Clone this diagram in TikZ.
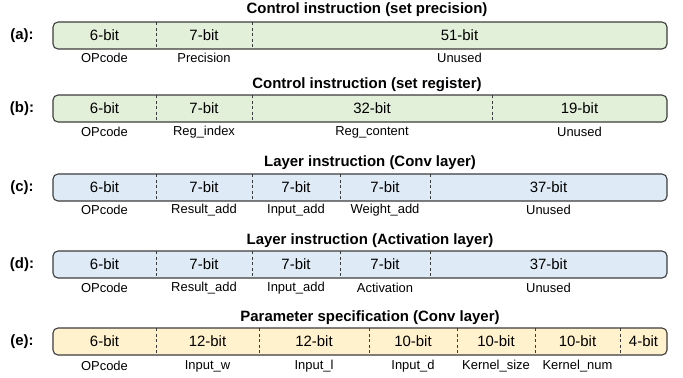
\documentclass[tikz,border=0pt]{standalone}
\usepackage{fontspec}
\setmainfont{Liberation Sans}
\usepackage{tikz}
\usetikzlibrary{positioning}

\definecolor{ctrlfill}{HTML}{E2EFD9}
\definecolor{layerfill}{HTML}{DEEBF7}
\definecolor{paramfill}{HTML}{FFF2CC}
\definecolor{edgegray}{HTML}{3C3C3C}

\begin{document}
\begin{tikzpicture}[
    x=1bp, y=-1bp,
    title/.style={font=\fontsize{15}{18}\selectfont\bfseries, inner sep=0pt},
    tag/.style={font=\fontsize{15}{18}\selectfont\bfseries, inner sep=0pt},
    bar/.style={rectangle, rounded corners=5bp, draw=edgegray, line width=1.1bp,
        minimum width=614bp, minimum height=27bp, inner sep=0pt},
    bits/.style={font=\fontsize{15}{18}\selectfont, inner sep=0pt},
    field/.style={font=\fontsize{13}{16}\selectfont, inner sep=0pt},
    sep/.style={draw=edgegray, line width=0.9bp, dash pattern=on 3bp off 2.5bp}
    ]
    \useasboundingbox (0,0) rectangle (683,377);

    % (a) set precision
    \node[title] (ta) at (367,10) {Control instruction (set precision)};
    \node[tag] (taga) at (22,35.5) {(a):};
    \node[bar, fill=ctrlfill] (bara) at (360,35.5) {};
    \foreach \x in {156,252}
        \draw[sep] (\x,22) -- (\x,49);
    \foreach \xa/\xb/\n/\what [count=\i] in {53/156/6/OPcode, 156/252/7/Precision, 252/667/51/Unused} {
        \node[bits] (a\i) at ({(\xa+\xb)/2},35.5) {\n-bit};
        \node[field] (la\i) at ({(\xa+\xb)/2},58) {\what};
    }

    % (b) set register
    \node[title] (tb) at (367,85) {Control instruction (set register)};
    \node[tag] (tagb) at (22,108.5) {(b):};
    \node[bar, fill=ctrlfill] (barb) at (360,108.5) {};
    \foreach \x in {156,252,492}
        \draw[sep] (\x,95) -- (\x,122);
    \foreach \xa/\xb/\n/\what [count=\i] in {53/156/6/OPcode, 156/252/7/Reg\_index,
            252/492/32/Reg\_content, 492/667/19/Unused} {
        \node[bits] (b\i) at ({(\xa+\xb)/2},108.5) {\n-bit};
        \node[field] (lb\i) at ({(\xa+\xb)/2},132) {\what};
    }

    % (c) conv layer
    \node[title] (tc) at (370,163) {Layer instruction (Conv layer)};
    \node[tag] (tagc) at (22,187.5) {(c):};
    \node[bar, fill=layerfill] (barc) at (360,187.5) {};
    \foreach \x in {156,252,340,430}
        \draw[sep] (\x,174) -- (\x,201);
    \foreach \xa/\xb/\n/\what [count=\i] in {53/156/6/OPcode, 156/252/7/Result\_add,
            252/340/7/Input\_add, 340/430/7/Weight\_add, 430/667/37/Unused} {
        \node[bits] (c\i) at ({(\xa+\xb)/2},187.5) {\n-bit};
        \node[field] (lc\i) at ({(\xa+\xb)/2},210) {\what};
    }

    % (d) activation layer
    \node[title] (td) at (370,241) {Layer instruction (Activation layer)};
    \node[tag] (tagd) at (22,264.5) {(d):};
    \node[bar, fill=layerfill] (bard) at (360,264.5) {};
    \foreach \x in {156,252,340,430}
        \draw[sep] (\x,251) -- (\x,278);
    \foreach \xa/\xb/\n/\what [count=\i] in {53/156/6/OPcode, 156/252/7/Result\_add,
            252/340/7/Input\_add, 340/430/7/Activation, 430/667/37/Unused} {
        \node[bits] (d\i) at ({(\xa+\xb)/2},264.5) {\n-bit};
        \node[field] (ld\i) at ({(\xa+\xb)/2},288) {\what};
    }

    % (e) conv layer parameters
    \node[title] (te) at (370,318) {Parameter specification (Conv layer)};
    \node[tag] (tage) at (22,341.5) {(e):};
    \node[bar, fill=paramfill] (bare) at (360,341.5) {};
    \foreach \x in {156,259,369,457,535,620}
        \draw[sep] (\x,328) -- (\x,355);
    \foreach \xa/\xb/\n/\what [count=\i] in {53/156/6/OPcode, 156/259/12/Input\_w,
            259/369/12/Input\_l, 369/457/10/Input\_d, 457/535/10/Kernel\_size,
            535/620/10/Kernel\_num} {
        \node[bits] (e\i) at ({(\xa+\xb)/2},341.5) {\n-bit};
        \node[field] (le\i) at ({(\xa+\xb)/2},366) {\what};
    }
    \node[bits] (e7) at (643.5,341.5) {4-bit};
\end{tikzpicture}
\end{document}
